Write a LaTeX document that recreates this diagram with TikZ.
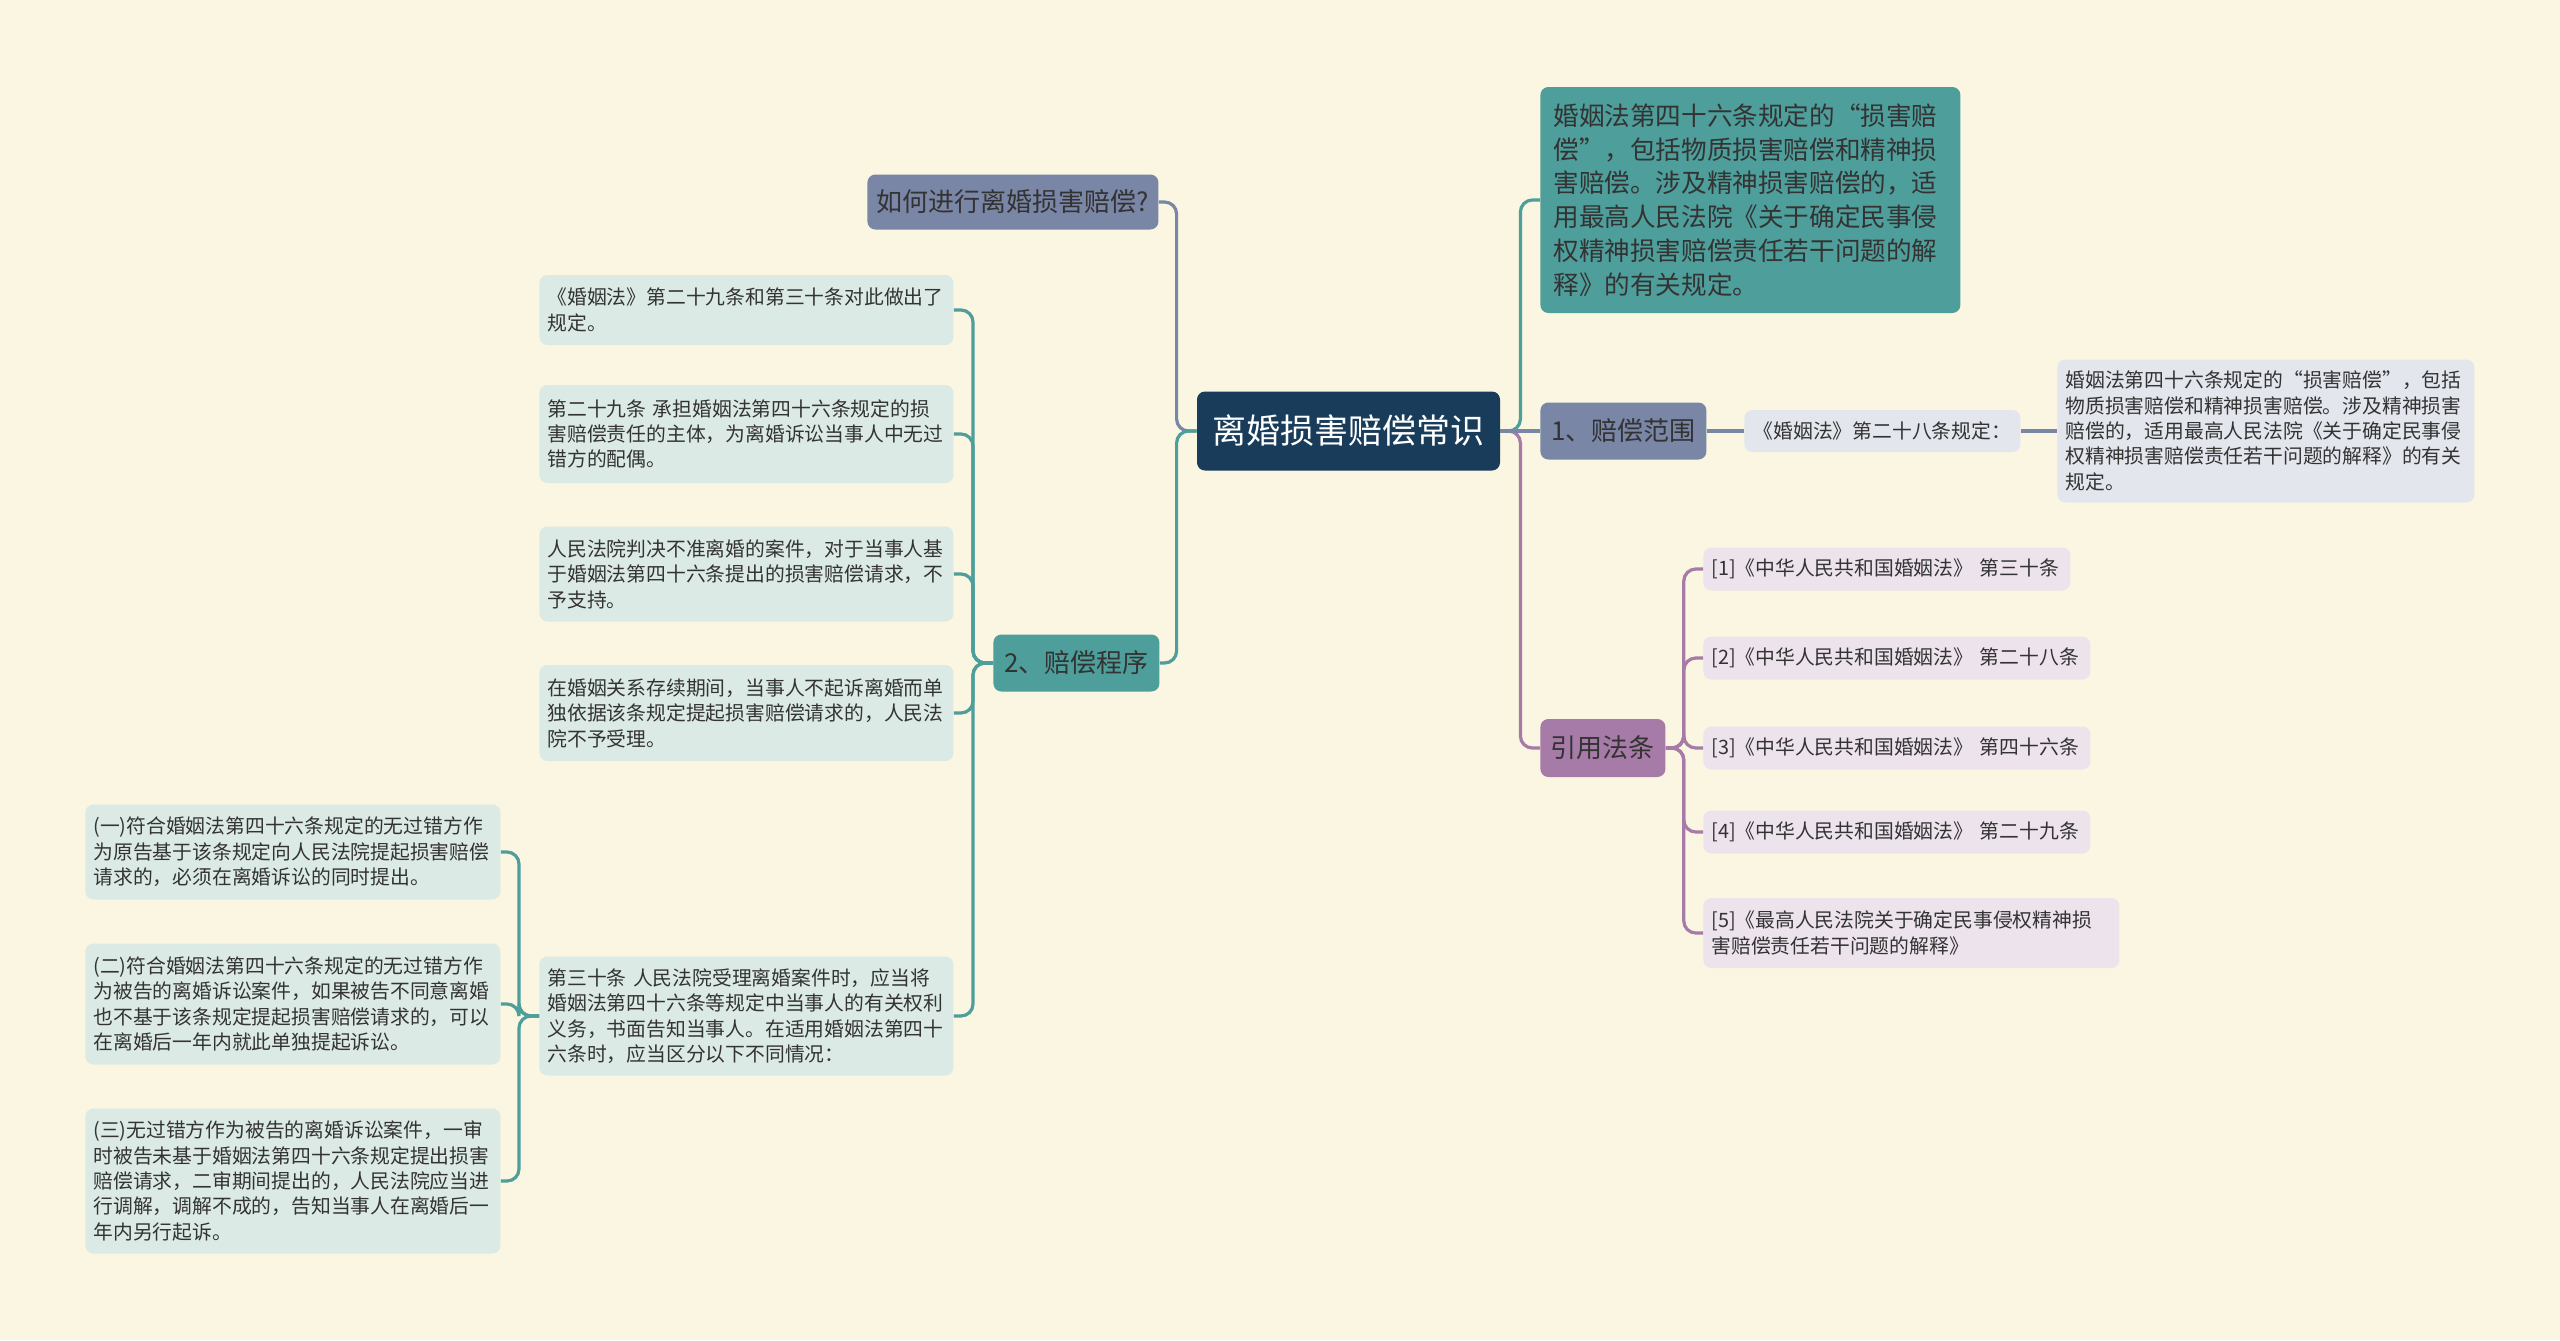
\documentclass[tikz,border=0pt]{standalone}
\usepackage{fontspec}
\setmainfont{Noto Sans CJK SC}

\definecolor{bgc}{RGB}{250,246,225}
\definecolor{navy}{RGB}{24,60,90}
\definecolor{tealc}{RGB}{78,158,155}
\definecolor{slatec}{RGB}{122,134,166}
\definecolor{plumc}{RGB}{166,123,168}
\definecolor{tealpale}{RGB}{220,234,230}
\definecolor{slatepale}{RGB}{228,230,238}
\definecolor{plumpale}{RGB}{237,227,237}
\definecolor{txt}{RGB}{51,51,51}

\begin{document}
\begin{tikzpicture}[
    x=0.5pt,y=-0.5pt,
    srrect/.style={rounded corners=4pt,anchor=west,inner ysep=0pt,text=txt},
    rootbox/.style={srrect,anchor=center,fill=navy,text=white,minimum width=151.5pt,minimum height=39.5pt,font=\fontsize{17pt}{20pt}\selectfont},
    catbox/.style={srrect,minimum height=28.5pt,inner xsep=0pt,font=\fontsize{13pt}{16pt}\selectfont},
    leaf/.style={srrect,align=left,inner xsep=4pt,font=\fontsize{9.9pt}{12.7pt}\selectfont},
    link/.style={line width=1.6pt,rounded corners=6pt}
    ]
    \fill[bgc] (0,0) rectangle (2560,1340);
    \node[rootbox] (root) at (1348.5,431) {离婚损害赔偿常识};

    % right side
    \node[srrect,fill=tealc,align=left,text width=197pt,inner xsep=6.5pt,minimum height=113pt,font=\fontsize{12.8pt}{16.9pt}\selectfont] (desc) at (1540,200) {婚姻法第四十六条规定的“损害赔\\偿”，包括物质损害赔偿和精神损\\害赔偿。涉及精神损害赔偿的，适\\用最高人民法院《关于确定民事侵\\权精神损害赔偿责任若干问题的解\\释》的有关规定。};
    \node[catbox,fill=slatec,minimum width=83pt] (scope) at (1540,431) {1、赔偿范围};
    \node[leaf,fill=slatepale,align=center,minimum width=138pt,minimum height=21pt] (art28) at (1744,431) {《婚姻法》第二十八条规定：};
    \node[leaf,fill=slatepale,text width=200.5pt,minimum height=71.5pt] (art28txt) at (2057,431) {婚姻法第四十六条规定的“损害赔偿”，包括\\物质损害赔偿和精神损害赔偿。涉及精神损害\\赔偿的，适用最高人民法院《关于确定民事侵\\权精神损害赔偿责任若干问题的解释》的有关\\规定。};
    \node[catbox,fill=plumc,minimum width=62.5pt,minimum height=29pt] (cite) at (1540,748) {引用法条};
    \begin{scope}[nodes={leaf,fill=plumpale,minimum height=21.5pt}]
        \node[text width=175.5pt] (r1) at (1703,569) {[1]《中华人民共和国婚姻法》~第三十条};
        \node[text width=185.5pt] (r2) at (1703,658) {[2]《中华人民共和国婚姻法》~第二十八条};
        \node[text width=185.5pt] (r3) at (1703,748) {[3]《中华人民共和国婚姻法》~第四十六条};
        \node[text width=185.5pt] (r4) at (1703,832) {[4]《中华人民共和国婚姻法》~第二十九条};
        \node[text width=200pt,minimum height=35pt] (r5) at (1703,933) {[5]《最高人民法院关于确定民事侵权精神损\\害赔偿责任若干问题的解释》};
    \end{scope}

    % left side
    \node[catbox,fill=slatec,minimum width=145.5pt,minimum height=27.5pt] (how) at (867,202) {如何进行离婚损害赔偿?};
    \node[catbox,fill=tealc,minimum width=83pt] (proc) at (993,663) {2、赔偿程序};
    \begin{scope}[nodes={leaf,fill=tealpale,text width=199pt}]
        \node[minimum height=35pt] (l1) at (539,310) {《婚姻法》第二十九条和第三十条对此做出了\\规定。};
        \node[minimum height=49pt] (l2) at (539,434) {第二十九条~承担婚姻法第四十六条规定的损\\害赔偿责任的主体，为离婚诉讼当事人中无过\\错方的配偶。};
        \node[minimum height=47.5pt] (l3) at (539,574) {人民法院判决不准离婚的案件，对于当事人基\\于婚姻法第四十六条提出的损害赔偿请求，不\\予支持。};
        \node[minimum height=48pt] (l4) at (539,713) {在婚姻关系存续期间，当事人不起诉离婚而单\\独依据该条规定提起损害赔偿请求的，人民法\\院不予受理。};
        \node[minimum height=59.5pt] (l5) at (539,1016) {第三十条~人民法院受理离婚案件时，应当将\\婚姻法第四十六条等规定中当事人的有关权利\\义务，书面告知当事人。在适用婚姻法第四十\\六条时，应当区分以下不同情况：};
    \end{scope}
    \begin{scope}[nodes={leaf,fill=tealpale,text width=199.5pt}]
        \node[minimum height=47.5pt] (f1) at (85,852) {(一)符合婚姻法第四十六条规定的无过错方作\\为原告基于该条规定向人民法院提起损害赔偿\\请求的，必须在离婚诉讼的同时提出。};
        \node[minimum height=60.5pt] (f2) at (85,1004) {(二)符合婚姻法第四十六条规定的无过错方作\\为被告的离婚诉讼案件，如果被告不同意离婚\\也不基于该条规定提起损害赔偿请求的，可以\\在离婚后一年内就此单独提起诉讼。};
        \node[minimum height=72.5pt] (f3) at (85,1181) {(三)无过错方作为被告的离婚诉讼案件，一审\\时被告未基于婚姻法第四十六条规定提出损害\\赔偿请求，二审期间提出的，人民法院应当进\\行调解，调解不成的，告知当事人在离婚后一\\年内另行起诉。};
    \end{scope}

    % connectors
    \draw[link,tealc] (root.east) -- ++(20,0) |- (desc.west);
    \draw[link,plumc] (root.east) -- ++(20,0) |- (cite.west);
    \draw[link,slatec] (root.east) -- (scope.west);
    \draw[link,slatec] (scope.east) -- (art28.west);
    \draw[link,slatec] (art28.east) -- (art28txt.west);
    \foreach \n in {r1,r2,r3,r4,r5}
    {\draw[link,plumc] (cite.east) -- ++(18,0) |- (\n.west);}
    \draw[link,slatec] (root.west) -- ++(-20,0) |- (how.east);
    \draw[link,tealc] (root.west) -- ++(-20,0) |- (proc.east);
    \foreach \n in {l1,l2,l3,l4,l5}
    {\draw[link,tealc] (proc.west) -- ++(-20,0) |- (\n.east);}
    \foreach \n in {f1,f2,f3}
    {\draw[link,tealc] (l5.west) -- ++(-20,0) |- (\n.east);}
\end{tikzpicture}
\end{document}
